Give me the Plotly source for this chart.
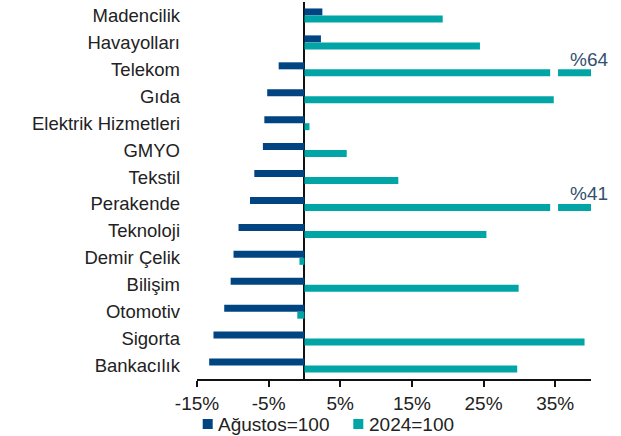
import plotly.graph_objects as go

# ---------------- data ----------------
categories = ["Madencilik", "Havayolları", "Telekom", "Gıda", "Elektrik Hizmetleri",
              "GMYO", "Tekstil", "Perakende", "Teknoloji", "Demir Çelik",
              "Bilişim", "Otomotiv", "Sigorta", "Bankacılık"]
series_names = ["Ağustos=100", "2024=100"]
agustos = [2.5, 2.3, -3.6, -5.2, -5.6, -5.8, -7.0, -7.6, -9.2, -9.9, -10.3, -11.2, -12.7, -13.3]
yil2024 = [19.3, 24.5, 64, 34.8, 0.7, 5.9, 13.1, 41, 25.4, -0.7, 29.9, -1.0, 39.1, 29.7]
tick_vals = [-15, -5, 5, 15, 25, 35]
tick_text = ["-15%", "-5%", "5%", "15%", "25%", "35%"]

# ---------------- style ----------------
NAVY = "#004481"
TEAL = "#02A5A5"
TEXT = "#222222"
LABEL_COL = "#34506f"
FONT = "Liberation Sans, Arial, sans-serif"
X_MIN, X_MAX = -15, 40
BREAK_FROM, BREAK_TO = 34.3, 35.4

W, H = 621, 436
ML, MR, MT, MB = 197, 30, 2, 57
PW, PH = W - ML - MR, H - MT - MB

# values beyond the axis are drawn broken, with their true value as label
shown2024 = [min(v, X_MAX) for v in yil2024]

fig = go.Figure()
fig.add_trace(go.Bar(y=categories, x=agustos, orientation="h", name=series_names[0],
                     marker=dict(color=NAVY, line=dict(width=0)), showlegend=False))
fig.add_trace(go.Bar(y=categories, x=shown2024, orientation="h", name=series_names[1],
                     marker=dict(color=TEAL, line=dict(width=0)), showlegend=False))

for i, (cat, v) in enumerate(zip(categories, yil2024)):
    if v > X_MAX:
        fig.add_shape(type="rect", xref="x", yref="y", x0=BREAK_FROM, x1=BREAK_TO,
                      y0=i - 0.45, y1=i + 0.45, fillcolor="white", line=dict(width=0),
                      layer="above")
        fig.add_annotation(x=X_MAX, y=cat, xref="x", yref="y", text=f"%{v:g}",
                           showarrow=False, xanchor="right", yanchor="middle",
                           xshift=19, yshift=10,
                           font=dict(family=FONT, size=19, color=LABEL_COL))

# manual legend
def px_x(p):
    return (p - ML) / PW

def px_y(p):
    return (H - MB - p) / PH

legend_items = [(series_names[0], NAVY, 202.7), (series_names[1], TEAL, 353.3)]
for name, col, x0 in legend_items:
    fig.add_shape(type="rect", xref="paper", yref="paper",
                  x0=px_x(x0), x1=px_x(x0 + 10), y0=px_y(419), y1=px_y(429),
                  fillcolor=col, line=dict(width=0))
    fig.add_annotation(xref="paper", yref="paper", x=px_x(x0 + 13.5), y=px_y(424.5),
                       text=name, showarrow=False, xanchor="left", yanchor="middle",
                       font=dict(family=FONT, size=19, color=TEXT))

fig.update_layout(
    width=W, height=H,
    margin=dict(l=ML, r=MR, t=MT, b=MB, pad=0, autoexpand=False),
    barmode="group", bargap=0.48, bargroupgap=0,
    plot_bgcolor="white", paper_bgcolor="white",
    font=dict(family=FONT, size=19, color=TEXT),
    showlegend=False,
)
fig.update_xaxes(range=[X_MIN, X_MAX], tickvals=tick_vals, ticktext=tick_text,
                 showgrid=False, zeroline=True, zerolinecolor="#111111", zerolinewidth=2,
                 showline=True, linecolor="#111111", linewidth=2,
                 ticks="outside", ticklen=6, tickwidth=2, tickcolor="#111111",
                 tickfont=dict(size=19, color=TEXT), fixedrange=True, automargin=False)
fig.update_yaxes(categoryorder="array", categoryarray=categories, autorange="reversed",
                 showgrid=False, showline=False, ticks="", ticklabelstandoff=16,
                 tickfont=dict(size=18.5, color=TEXT), fixedrange=True, automargin=False)

fig.write_html("out.html", config={"displayModeBar": False},
               post_script="document.body.style.margin='0';document.body.style.overflow='hidden';")
